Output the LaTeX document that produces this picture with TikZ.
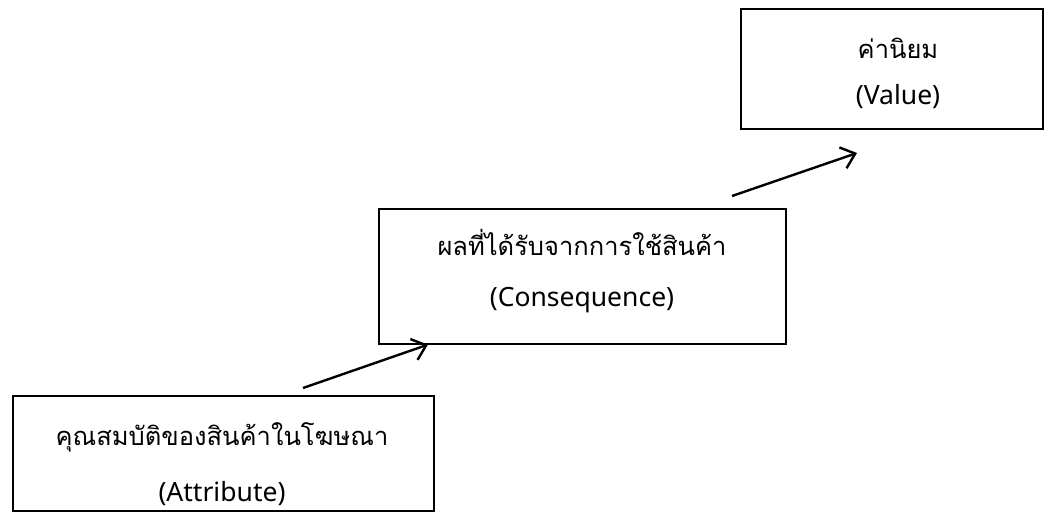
\documentclass[tikz,border=0pt]{standalone}
\usepackage{fontspec}
\setmainfont{Noto Sans}
\newfontfamily\thaifont[Script=Thai]{Loma}
\usetikzlibrary{arrows.meta}
\tikzset{
  box/.style={draw, line width=1.6pt, rectangle, inner sep=0pt, anchor=north west},
  thtext/.style={anchor=base, inner sep=0pt, font=\thaifont\fontsize{25.5}{30}\selectfont},
  entext/.style={anchor=base, inner sep=0pt, font=\fontsize{26.5}{30}\selectfont},
  conn/.style={line width=2.4pt, -{Straight Barb[length=13pt,width=22pt,line width=2.4pt]}}
}
\begin{document}
\begin{tikzpicture}[x=1pt,y=-1pt]
\useasboundingbox (0,0) rectangle (1054,512);
\node[box, minimum width=421pt, minimum height=115pt] (attr) at (12,395) {};
\node[box, minimum width=407pt, minimum height=135pt] (cons) at (378,208) {};
\node[box, minimum width=302pt, minimum height=120pt] (val) at (740,8) {};
\node[thtext] (attrth) at (222,445) {คุณสมบัติของสินค้าในโฆษณา};
\node[entext] (attren) at (222,501) {(Attribute)};
\node[thtext] (consth) at (582,255) {ผลที่ได้รับจากการใช้สินค้า};
\node[entext] (consen) at (582,306) {(Consequence)};
\node[thtext] (valth) at (898,58) {ค่านิยม};
\node[entext] (valen) at (898,104) {(Value)};
\coordinate (s1) at (303,388);
\coordinate (e1) at ([xshift=50pt]cons.south west);
\coordinate (s2) at (732,196);
\coordinate (e2) at (857,153);
\draw[conn] (s1) -- (e1);
\draw[conn] (s2) -- (e2);
\end{tikzpicture}
\end{document}
